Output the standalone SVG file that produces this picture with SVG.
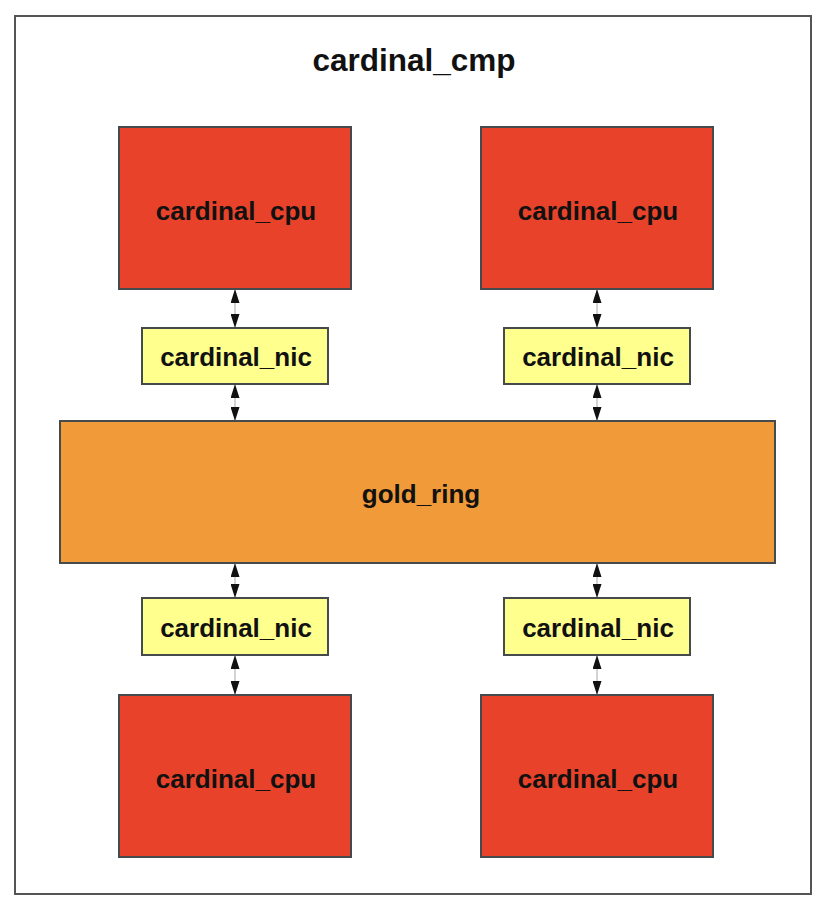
<svg xmlns="http://www.w3.org/2000/svg" width="822" height="898" viewBox="0 0 822 898">
<style>
text{font-family:"Liberation Sans",Arial,sans-serif;font-weight:bold;fill:#111;text-anchor:middle}
.lbl{font-size:26px}
.title{font-size:31.5px}
.cpu{fill:#E8432A;stroke:#454a4d;stroke-width:2}
.nic{fill:#FFFF8E;stroke:#454a4d;stroke-width:2}
.ring{fill:#F09A3A;stroke:#454a4d;stroke-width:2}
.conn{stroke:#c4c4c4;stroke-width:1.5;fill:none;marker-start:url(#ah);marker-end:url(#ah)}
</style>
<defs>
<marker id="ah" viewBox="0 0 14 9" refX="14" refY="4.5" markerWidth="14" markerHeight="9" markerUnits="userSpaceOnUse" orient="auto-start-reverse">
<path d="M0,0 L14,4.5 L0,9 Z" fill="#111"/>
</marker>
</defs>
<rect width="822" height="898" fill="#fff"/>
<g id="cardinal_cmp">
<rect x="15" y="16" width="796" height="878" fill="#fff" stroke="#555" stroke-width="2"/>
<text class="title" x="414" y="71">cardinal_cmp</text>
</g>
<g id="connectors">
<line class="conn" x1="235" y1="289" x2="235" y2="328"/>
<line class="conn" x1="235" y1="384" x2="235" y2="421"/>
<line class="conn" x1="235" y1="563" x2="235" y2="598"/>
<line class="conn" x1="235" y1="655" x2="235" y2="695"/>
<line class="conn" x1="597" y1="289" x2="597" y2="328"/>
<line class="conn" x1="597" y1="384" x2="597" y2="421"/>
<line class="conn" x1="597" y1="563" x2="597" y2="598"/>
<line class="conn" x1="597" y1="655" x2="597" y2="695"/>
</g>
<g id="cpu_tl"><rect class="cpu" x="119" y="127" width="232" height="162"/><text class="lbl" x="236" y="220">cardinal_cpu</text></g>
<g id="cpu_tr"><rect class="cpu" x="481" y="127" width="232" height="162"/><text class="lbl" x="598" y="220">cardinal_cpu</text></g>
<g id="nic_tl"><rect class="nic" x="142" y="328" width="186" height="56"/><text class="lbl" x="236" y="366">cardinal_nic</text></g>
<g id="nic_tr"><rect class="nic" x="504" y="328" width="186" height="56"/><text class="lbl" x="598" y="366">cardinal_nic</text></g>
<g id="gold_ring"><rect class="ring" x="60" y="421" width="715" height="142"/><text class="lbl" x="421" y="503">gold_ring</text></g>
<g id="nic_bl"><rect class="nic" x="142" y="598" width="186" height="57"/><text class="lbl" x="236" y="637">cardinal_nic</text></g>
<g id="nic_br"><rect class="nic" x="504" y="598" width="186" height="57"/><text class="lbl" x="598" y="637">cardinal_nic</text></g>
<g id="cpu_bl"><rect class="cpu" x="119" y="695" width="232" height="162"/><text class="lbl" x="236" y="788">cardinal_cpu</text></g>
<g id="cpu_br"><rect class="cpu" x="481" y="695" width="232" height="162"/><text class="lbl" x="598" y="788">cardinal_cpu</text></g>
</svg>
